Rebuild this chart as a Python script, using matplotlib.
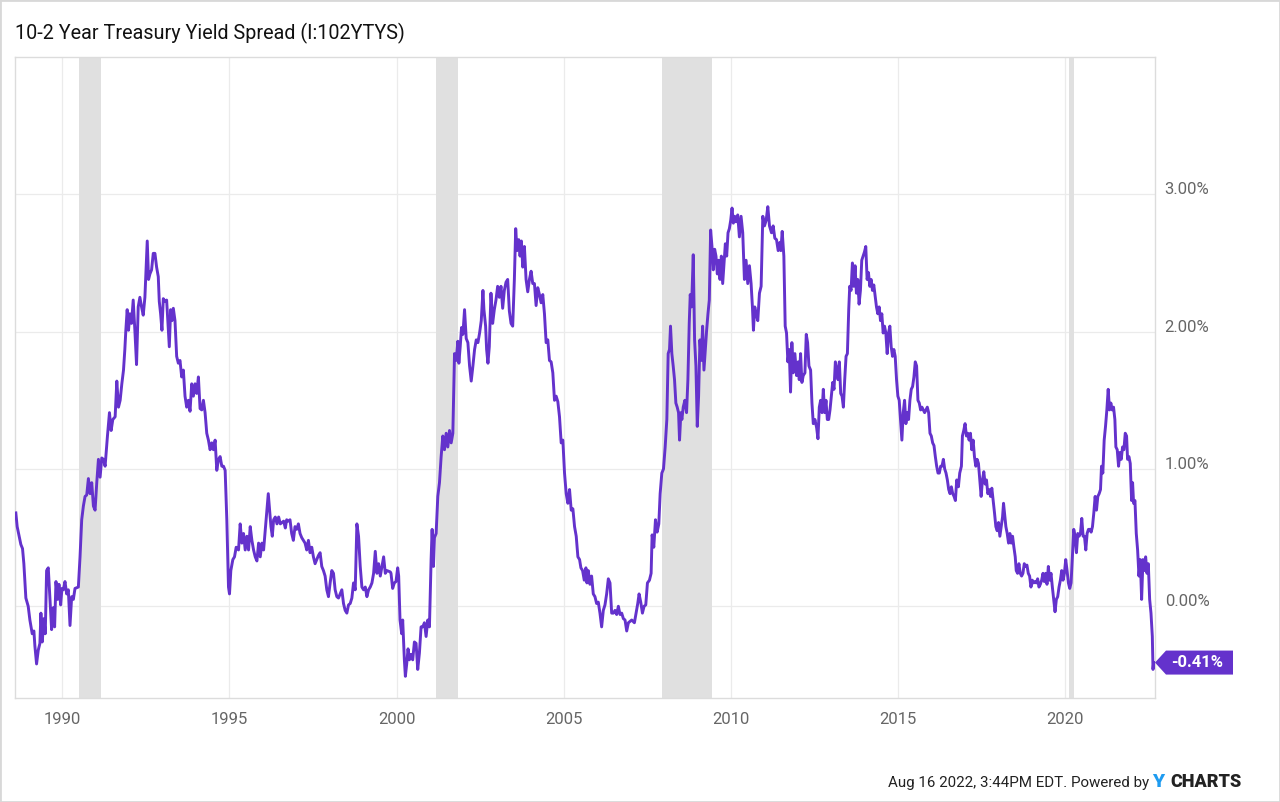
import matplotlib.pyplot as plt
from matplotlib.patches import Polygon, Rectangle

# 10-2 year treasury spread (decimal year, percent)
years_8894 = [1988.61, 1988.65, 1988.71, 1988.76, 1988.81, 1988.85, 1988.91, 1988.98, 1989.03, 1989.10,
              1989.15, 1989.18, 1989.23, 1989.28, 1989.33, 1989.36, 1989.40, 1989.45, 1989.49, 1989.53,
              1989.58, 1989.63, 1989.68, 1989.73, 1989.77, 1989.81, 1989.86, 1989.90, 1989.95, 1989.99,
              1990.03, 1990.08, 1990.13, 1990.18, 1990.23, 1990.28, 1990.33, 1990.38, 1990.48, 1990.53,
              1990.58, 1990.63, 1990.68, 1990.73, 1990.78, 1990.83, 1990.88, 1990.93, 1990.98, 1991.03,
              1991.08, 1991.13, 1991.18, 1991.23, 1991.28, 1991.35, 1991.41, 1991.46, 1991.51, 1991.58,
              1991.63, 1991.68, 1991.73, 1991.78, 1991.83, 1991.87, 1991.90, 1991.94, 1991.98, 1992.02,
              1992.07, 1992.12, 1992.17, 1992.22, 1992.27, 1992.32, 1992.37, 1992.42, 1992.47, 1992.50,
              1992.54, 1992.58, 1992.62, 1992.67, 1992.72, 1992.77, 1992.82, 1992.87, 1992.90, 1992.94,
              1992.98, 1993.02, 1993.07, 1993.12, 1993.17, 1993.20, 1993.24, 1993.28, 1993.32, 1993.37,
              1993.42, 1993.47, 1993.52, 1993.57, 1993.62, 1993.67, 1993.72, 1993.77, 1993.82, 1993.87,
              1993.92, 1993.97, 1994.02, 1994.07, 1994.12]
spread_8894 = [0.68, 0.58, 0.51, 0.45, 0.42, 0.31, 0.06, 0.00, -0.10, -0.20,
               -0.18, -0.29, -0.42, -0.32, -0.27, -0.05, -0.26, -0.09, -0.20, 0.26,
               0.28, 0.05, -0.17, -0.01, -0.15, 0.18, 0.05, 0.16, 0.01, 0.13,
               0.12, 0.18, 0.09, 0.12, -0.14, 0.07, 0.05, 0.13, 0.14, 0.36,
               0.63, 0.73, 0.80, 0.81, 0.93, 0.82, 0.90, 0.73, 0.70, 0.90,
               1.07, 0.94, 1.08, 1.07, 1.02, 1.24, 1.41, 1.28, 1.36, 1.38,
               1.64, 1.45, 1.50, 1.62, 1.72, 1.87, 2.01, 2.16, 2.01, 2.13,
               2.06, 2.23, 2.01, 1.76, 2.18, 2.25, 2.18, 2.12, 2.25, 2.42,
               2.66, 2.38, 2.42, 2.45, 2.57, 2.57, 2.47, 2.40, 2.22, 2.13,
               2.01, 2.24, 2.22, 2.23, 2.01, 1.89, 2.16, 2.08, 2.17, 2.08,
               1.82, 1.77, 1.79, 1.67, 1.72, 1.53, 1.45, 1.50, 1.42, 1.62,
               1.53, 1.62, 1.55, 1.67, 1.44]

years_9499 = [1994.17, 1994.22, 1994.27, 1994.32, 1994.37, 1994.42, 1994.47, 1994.52, 1994.57, 1994.62,
              1994.67, 1994.72, 1994.77, 1994.82, 1994.87, 1994.92, 1994.97, 1995.00, 1995.04, 1995.10,
              1995.15, 1995.20, 1995.27, 1995.32, 1995.37, 1995.42, 1995.47, 1995.52, 1995.57, 1995.62,
              1995.67, 1995.72, 1995.77, 1995.82, 1995.87, 1995.92, 1995.97, 1996.02, 1996.07, 1996.12,
              1996.16, 1996.20, 1996.24, 1996.28, 1996.32, 1996.37, 1996.42, 1996.47, 1996.52, 1996.62,
              1996.67, 1996.71, 1996.76, 1996.81, 1996.86, 1996.91, 1996.96, 1997.01, 1997.06, 1997.11,
              1997.16, 1997.21, 1997.26, 1997.31, 1997.36, 1997.41, 1997.46, 1997.51, 1997.56, 1997.61,
              1997.66, 1997.71, 1997.76, 1997.81, 1997.86, 1997.91, 1997.96, 1998.01, 1998.06, 1998.11,
              1998.16, 1998.21, 1998.26, 1998.31, 1998.36, 1998.41, 1998.46, 1998.51, 1998.56, 1998.61,
              1998.66, 1998.71, 1998.76, 1998.81, 1998.86, 1998.91, 1998.96, 1999.01, 1999.06, 1999.11,
              1999.16, 1999.21, 1999.26, 1999.31, 1999.36, 1999.41, 1999.46, 1999.51, 1999.56, 1999.61,
              1999.66, 1999.71, 1999.81]
spread_9499 = [1.43, 1.50, 1.41, 1.26, 1.21, 1.14, 1.19, 1.14, 1.21, 0.99,
               1.07, 1.09, 1.02, 1.02, 0.99, 0.63, 0.14, 0.09, 0.26, 0.34,
               0.36, 0.43, 0.41, 0.60, 0.46, 0.53, 0.41, 0.51, 0.41, 0.58,
               0.48, 0.41, 0.36, 0.33, 0.46, 0.36, 0.46, 0.41, 0.56, 0.70,
               0.82, 0.70, 0.58, 0.51, 0.63, 0.65, 0.60, 0.65, 0.60, 0.62,
               0.57, 0.63, 0.62, 0.63, 0.53, 0.48, 0.58, 0.56, 0.60, 0.53,
               0.50, 0.48, 0.46, 0.41, 0.48, 0.39, 0.43, 0.36, 0.31, 0.34,
               0.37, 0.39, 0.29, 0.26, 0.22, 0.12, 0.07, 0.17, 0.26, 0.24,
               0.12, 0.07, 0.06, 0.09, 0.12, 0.02, -0.03, -0.05, 0.01, 0.02,
               0.06, 0.17, 0.12, 0.60, 0.51, 0.29, 0.14, 0.12, 0.14, 0.07,
               0.12, 0.14, 0.17, 0.24, 0.40, 0.24, 0.31, 0.22, 0.29, 0.36,
               0.24, 0.26, 0.25]

years_0005 = [1999.83, 1999.88, 1999.93, 1999.98, 2000.03, 2000.06, 2000.10, 2000.15, 2000.18, 2000.23,
              2000.26, 2000.30, 2000.34, 2000.38, 2000.43, 2000.48, 2000.53, 2000.58, 2000.63, 2000.68,
              2000.73, 2000.78, 2000.83, 2000.88, 2000.93, 2000.98, 2001.03, 2001.06, 2001.10, 2001.13,
              2001.18, 2001.23, 2001.28, 2001.33, 2001.38, 2001.43, 2001.48, 2001.53, 2001.58, 2001.63,
              2001.68, 2001.73, 2001.78, 2001.83, 2001.86, 2001.90, 2001.94, 2001.98, 2002.03, 2002.08,
              2002.13, 2002.18, 2002.23, 2002.28, 2002.33, 2002.38, 2002.43, 2002.48, 2002.53, 2002.58,
              2002.61, 2002.66, 2002.69, 2002.73, 2002.77, 2002.82, 2002.87, 2002.92, 2002.97, 2003.02,
              2003.07, 2003.12, 2003.17, 2003.22, 2003.27, 2003.32, 2003.37, 2003.42, 2003.47, 2003.52,
              2003.56, 2003.60, 2003.65, 2003.69, 2003.73, 2003.77, 2003.82, 2003.87, 2003.92, 2003.97,
              2004.02, 2004.07, 2004.12, 2004.17, 2004.22, 2004.27, 2004.32, 2004.37, 2004.42, 2004.47,
              2004.52, 2004.57, 2004.62, 2004.67, 2004.72, 2004.77, 2004.82, 2004.87, 2004.92, 2004.97,
              2005.02, 2005.07, 2005.12, 2005.17, 2005.22, 2005.27, 2005.32, 2005.37, 2005.42, 2005.47]
spread_0005 = [0.24, 0.13, 0.17, 0.18, 0.28, 0.22, -0.10, -0.20, -0.10, -0.39,
               -0.51, -0.42, -0.31, -0.39, -0.35, -0.39, -0.26, -0.27, -0.46, -0.34,
               -0.15, -0.15, -0.12, -0.22, -0.10, -0.15, 0.34, 0.56, 0.29, 0.50,
               0.53, 0.80, 0.90, 1.09, 1.24, 1.14, 1.26, 1.16, 1.28, 1.19,
               1.26, 1.84, 1.79, 1.93, 1.77, 1.89, 2.03, 1.98, 2.16, 1.95,
               1.92, 1.75, 1.64, 1.75, 1.87, 1.94, 1.92, 1.99, 2.08, 2.30,
               2.16, 2.04, 1.87, 1.77, 1.89, 2.28, 2.06, 2.16, 2.23, 2.33,
               2.25, 2.33, 2.17, 2.30, 2.36, 2.38, 2.15, 2.06, 2.04, 2.38,
               2.75, 2.59, 2.67, 2.55, 2.66, 2.47, 2.62, 2.38, 2.29, 2.38,
               2.44, 2.35, 2.35, 2.19, 2.32, 2.27, 2.21, 2.27, 2.13, 1.92,
               1.94, 1.79, 1.78, 1.70, 1.50, 1.53, 1.49, 1.38, 1.19, 1.21,
               0.97, 0.82, 0.75, 0.85, 0.70, 0.71, 0.58, 0.51, 0.36, 0.34]

years_0511 = [2005.51, 2005.56, 2005.61, 2005.66, 2005.69, 2005.73, 2005.78, 2005.83, 2005.88, 2005.93,
              2005.98, 2006.03, 2006.08, 2006.13, 2006.18, 2006.23, 2006.28, 2006.33, 2006.38, 2006.43,
              2006.48, 2006.53, 2006.58, 2006.63, 2006.68, 2006.73, 2006.78, 2006.83, 2006.88, 2006.93,
              2006.98, 2007.03, 2007.11, 2007.16, 2007.21, 2007.25, 2007.30, 2007.35, 2007.40, 2007.45,
              2007.50, 2007.56, 2007.61, 2007.64, 2007.69, 2007.74, 2007.79, 2007.84, 2007.88, 2007.93,
              2007.98, 2008.03, 2008.08, 2008.12, 2008.16, 2008.19, 2008.23, 2008.27, 2008.31, 2008.35,
              2008.39, 2008.43, 2008.46, 2008.50, 2008.53, 2008.57, 2008.62, 2008.67, 2008.71, 2008.75,
              2008.78, 2008.82, 2008.87, 2008.91, 2008.95, 2008.99, 2009.03, 2009.07, 2009.11, 2009.15,
              2009.19, 2009.23, 2009.27, 2009.31, 2009.35, 2009.39, 2009.43, 2009.47, 2009.51, 2009.55,
              2009.59, 2009.63, 2009.67, 2009.71, 2009.75, 2009.79, 2009.83, 2009.87, 2009.91, 2009.95,
              2009.99, 2010.03, 2010.07, 2010.11, 2010.15, 2010.20, 2010.25, 2010.30, 2010.35, 2010.40,
              2010.45, 2010.50, 2010.55, 2010.60, 2010.64, 2010.67, 2010.71, 2010.75, 2010.80, 2010.85,
              2010.90, 2010.95, 2011.00, 2011.05, 2011.10, 2011.15]
spread_0511 = [0.28, 0.26, 0.19, 0.28, 0.17, 0.26, 0.16, 0.22, 0.09, 0.07,
               0.02, 0.03, -0.05, -0.15, -0.03, 0.01, 0.09, 0.20, 0.17, -0.05,
               -0.05, -0.03, -0.06, 0.00, -0.06, -0.05, -0.09, -0.10, -0.18, -0.12,
               -0.11, -0.10, -0.12, -0.05, 0.02, 0.09, 0.03, -0.05, 0.00, 0.01,
               0.17, 0.19, 0.24, 0.52, 0.43, 0.63, 0.54, 0.60, 0.82, 0.97,
               1.00, 1.16, 1.36, 1.84, 1.87, 2.04, 1.84, 1.75, 1.65, 1.48,
               1.45, 1.41, 1.21, 1.41, 1.36, 1.45, 1.50, 1.41, 1.65, 2.06,
               2.27, 2.18, 2.56, 1.94, 1.75, 1.31, 1.53, 1.94, 1.79, 2.04,
               1.72, 1.87, 2.01, 2.13, 2.23, 2.74, 2.62, 2.45, 2.60, 2.55,
               2.42, 2.52, 2.38, 2.55, 2.35, 2.50, 2.64, 2.55, 2.72, 2.75,
               2.81, 2.90, 2.79, 2.84, 2.80, 2.85, 2.69, 2.84, 2.72, 2.38,
               2.52, 2.35, 2.48, 2.35, 2.18, 2.01, 2.18, 2.13, 2.08, 2.28,
               2.33, 2.84, 2.77, 2.81, 2.91, 2.77]

years_1116 = [2011.21, 2011.26, 2011.31, 2011.36, 2011.41, 2011.46, 2011.49, 2011.53, 2011.58, 2011.62,
              2011.66, 2011.70, 2011.74, 2011.78, 2011.82, 2011.86, 2011.91, 2011.96, 2012.01, 2012.04,
              2012.08, 2012.12, 2012.16, 2012.21, 2012.25, 2012.29, 2012.33, 2012.38, 2012.42, 2012.46,
              2012.51, 2012.56, 2012.60, 2012.64, 2012.68, 2012.72, 2012.76, 2012.80, 2012.84, 2012.88,
              2012.92, 2012.96, 2013.00, 2013.04, 2013.08, 2013.12, 2013.16, 2013.20, 2013.24, 2013.28,
              2013.32, 2013.36, 2013.40, 2013.44, 2013.48, 2013.52, 2013.55, 2013.59, 2013.63, 2013.67,
              2013.71, 2013.75, 2013.79, 2013.83, 2013.87, 2013.91, 2013.95, 2013.99, 2014.03, 2014.07,
              2014.11, 2014.15, 2014.19, 2014.23, 2014.27, 2014.31, 2014.35, 2014.39, 2014.43, 2014.47,
              2014.51, 2014.55, 2014.59, 2014.63, 2014.67, 2014.71, 2014.75, 2014.79, 2014.83, 2014.87,
              2014.91, 2014.95, 2014.99, 2015.03, 2015.07, 2015.11, 2015.15, 2015.19, 2015.23, 2015.27,
              2015.31, 2015.35, 2015.39, 2015.43, 2015.47, 2015.51, 2015.55, 2015.59, 2015.63, 2015.67,
              2015.71, 2015.75, 2015.79, 2015.83, 2015.87, 2015.91, 2015.95, 2015.99, 2016.03, 2016.07,
              2016.11, 2016.15, 2016.19, 2016.23, 2016.27, 2016.31, 2016.35, 2016.39, 2016.43, 2016.47,
              2016.51, 2016.55, 2016.59, 2016.63, 2016.67, 2016.71, 2016.75, 2016.80, 2016.84]
spread_1116 = [2.72, 2.77, 2.68, 2.67, 2.59, 2.65, 2.59, 2.73, 2.55, 2.04,
               1.99, 1.78, 1.87, 1.56, 1.92, 1.70, 1.84, 1.68, 1.78, 1.65,
               1.84, 1.63, 1.68, 1.70, 1.98, 1.92, 1.75, 1.72, 1.48, 1.33,
               1.36, 1.30, 1.22, 1.45, 1.50, 1.41, 1.58, 1.41, 1.50, 1.36,
               1.36, 1.43, 1.53, 1.63, 1.58, 1.78, 1.73, 1.65, 1.78, 1.55,
               1.53, 1.45, 1.65, 1.82, 1.84, 2.16, 2.33, 2.30, 2.50, 2.33,
               2.48, 2.28, 2.38, 2.20, 2.30, 2.52, 2.55, 2.58, 2.62, 2.38,
               2.43, 2.33, 2.38, 2.30, 2.34, 2.26, 2.18, 2.13, 2.18, 2.08,
               2.13, 1.99, 2.04, 1.99, 1.84, 1.99, 2.04, 1.89, 1.82, 1.87,
               1.82, 1.65, 1.53, 1.50, 1.36, 1.21, 1.41, 1.50, 1.33, 1.41,
               1.36, 1.50, 1.58, 1.60, 1.67, 1.78, 1.75, 1.50, 1.48, 1.43,
               1.45, 1.43, 1.41, 1.43, 1.45, 1.41, 1.26, 1.24, 1.19, 1.17,
               1.09, 1.02, 0.97, 0.97, 1.02, 1.02, 1.07, 1.00, 0.97, 0.92,
               0.85, 0.82, 0.87, 0.82, 0.80, 0.77, 0.92, 0.87, 0.97]

years_1622 = [2016.89, 2016.92, 2016.96, 2017.00, 2017.04, 2017.08, 2017.12, 2017.16, 2017.20, 2017.24,
              2017.28, 2017.32, 2017.36, 2017.40, 2017.44, 2017.48, 2017.52, 2017.56, 2017.60, 2017.64,
              2017.68, 2017.72, 2017.76, 2017.80, 2017.84, 2017.88, 2017.92, 2017.96, 2018.00, 2018.04,
              2018.08, 2018.12, 2018.15, 2018.18, 2018.22, 2018.26, 2018.30, 2018.34, 2018.38, 2018.42,
              2018.46, 2018.50, 2018.53, 2018.57, 2018.61, 2018.65, 2018.69, 2018.73, 2018.77, 2018.81,
              2018.85, 2018.89, 2018.93, 2018.97, 2019.01, 2019.05, 2019.09, 2019.13, 2019.17, 2019.21,
              2019.25, 2019.29, 2019.33, 2019.37, 2019.41, 2019.45, 2019.49, 2019.53, 2019.57, 2019.61,
              2019.65, 2019.69, 2019.73, 2019.77, 2019.81, 2019.85, 2019.89, 2019.93, 2019.97, 2020.01,
              2020.05, 2020.09, 2020.13, 2020.17, 2020.21, 2020.25, 2020.29, 2020.33, 2020.37, 2020.41,
              2020.45, 2020.49, 2020.53, 2020.57, 2020.61, 2020.65, 2020.69, 2020.73, 2020.77, 2020.81,
              2020.85, 2020.89, 2020.93, 2020.97, 2021.01, 2021.05, 2021.08, 2021.12, 2021.16, 2021.20,
              2021.24, 2021.28, 2021.32, 2021.36, 2021.40, 2021.44, 2021.48, 2021.51, 2021.55, 2021.59,
              2021.63, 2021.67, 2021.71, 2021.75, 2021.79, 2021.83, 2021.86, 2021.90, 2021.94, 2021.98,
              2022.01, 2022.04, 2022.08, 2022.12, 2022.16, 2022.20, 2022.24, 2022.28, 2022.32, 2022.36,
              2022.40, 2022.44, 2022.48, 2022.52, 2022.56, 2022.60, 2022.62, 2022.64]
spread_1622 = [1.02, 1.24, 1.28, 1.33, 1.24, 1.26, 1.21, 1.26, 1.14, 1.21,
               1.09, 1.02, 1.07, 1.04, 0.92, 0.80, 0.92, 0.98, 0.89, 0.92,
               0.82, 0.85, 0.80, 0.86, 0.77, 0.68, 0.58, 0.55, 0.61, 0.51,
               0.58, 0.65, 0.75, 0.68, 0.58, 0.53, 0.46, 0.53, 0.46, 0.51,
               0.43, 0.36, 0.26, 0.24, 0.31, 0.24, 0.22, 0.24, 0.31, 0.29,
               0.30, 0.24, 0.22, 0.14, 0.19, 0.17, 0.18, 0.17, 0.20, 0.14,
               0.16, 0.19, 0.24, 0.18, 0.24, 0.16, 0.29, 0.19, 0.24, 0.14,
               0.05, -0.04, 0.05, 0.07, 0.14, 0.19, 0.26, 0.19, 0.24, 0.34,
               0.26, 0.17, 0.13, 0.17, 0.36, 0.56, 0.51, 0.39, 0.53, 0.51,
               0.53, 0.64, 0.51, 0.51, 0.41, 0.53, 0.56, 0.56, 0.54, 0.58,
               0.68, 0.80, 0.70, 0.80, 0.82, 0.85, 1.02, 0.97, 1.21, 1.31,
               1.43, 1.58, 1.43, 1.48, 1.43, 1.45, 1.36, 1.16, 1.14, 1.02,
               1.12, 1.07, 1.16, 1.14, 1.26, 1.24, 1.07, 1.09, 1.04, 0.77,
               0.90, 0.75, 0.77, 0.53, 0.41, 0.22, 0.34, 0.05, 0.34, 0.26,
               0.36, 0.24, 0.31, 0.05, -0.05, -0.22, -0.46, -0.41]

years = years_8894 + years_9499 + years_0005 + years_0511 + years_1116 + years_1622
spread = spread_8894 + spread_9499 + spread_0005 + spread_0511 + spread_1116 + spread_1622

recessions = [(1990.50, 1991.16), (2001.17, 2001.83), (2007.93, 2009.42), (2020.10, 2020.27)]
xticks = [1990, 1995, 2000, 2005, 2010, 2015, 2020]
yticks = [0, 1, 2, 3]
last_value = -0.41

plt.rcParams['font.family'] = ['Roboto', 'DejaVu Sans']

purple = '#6432cc'
fig = plt.figure(figsize=(12.8, 8.02), dpi=100)
ax = fig.add_axes([15/1280, 104/802, 1140/1280, 641/802])

for a, b in recessions:
    ax.axvspan(a, b, color='#e0e0e0', lw=0, zorder=1)
ax.plot(years, spread, color=purple, lw=2.1, zorder=3, solid_joinstyle='round')

ax.set_xlim(1988.585, 2022.68)
ax.set_ylim(-0.668, 4.0)
ax.set_xticks(xticks)
ax.set_yticks(yticks)
ax.set_yticklabels([f'{v:.2f}%' for v in yticks])
ax.yaxis.tick_right()
ax.grid(color='#ebebeb', lw=0.9)
ax.set_axisbelow(True)
ax.tick_params(length=0, labelsize=12, labelcolor='#666666')
ax.tick_params(axis='y', pad=7)
ax.tick_params(axis='x', pad=10)
plt.setp(ax.get_yticklabels(), va='baseline')
for s in ax.spines.values():
    s.set_color('#dcdcdc')
    s.set_linewidth(1)

# tag with the last value, drawn in pixels
fig.canvas.draw()
xr, yv = ax.transData.transform((2022.68, last_value))
pts = [(xr, yv), (xr + 11, yv + 12), (xr + 78, yv + 12), (xr + 78, yv - 12), (xr + 11, yv - 12)]
pts = fig.transFigure.inverted().transform(pts)
fig.add_artist(Polygon(pts, closed=True, transform=fig.transFigure, fc=purple, ec='none'))
tx, ty = fig.transFigure.inverted().transform((xr + 42, yv))
fig.text(tx, ty, f'{last_value:.2f}%', color='white', fontsize=12, fontweight='bold',
         ha='center', va='center')

fig.text(15/1280, 1 - 33/802, '10-2 Year Treasury Yield Spread (I:102YTYS)', fontsize=14.2,
         color='#111111', va='center')

# footer
fig.text(1149/1280, 1 - 783/802, 'Aug 16 2022, 3:44PM EDT. Powered by', fontsize=10.9,
         color='#222222', ha='right', va='center')
fig.text(1152/1280, 1 - 782/802, 'Y', fontsize=14, fontweight='black', color='#1e9bf0',
         va='center')
fig.text(1170/1280, 1 - 782/802, 'CHARTS', fontsize=13, fontweight='black',
         color='#222222', va='center')

fig.add_artist(Rectangle((0, 0), 1, 1, transform=fig.transFigure, fill=False,
                         ec='#d8d8d8', lw=2))

plt.savefig('out.png', dpi=100)
